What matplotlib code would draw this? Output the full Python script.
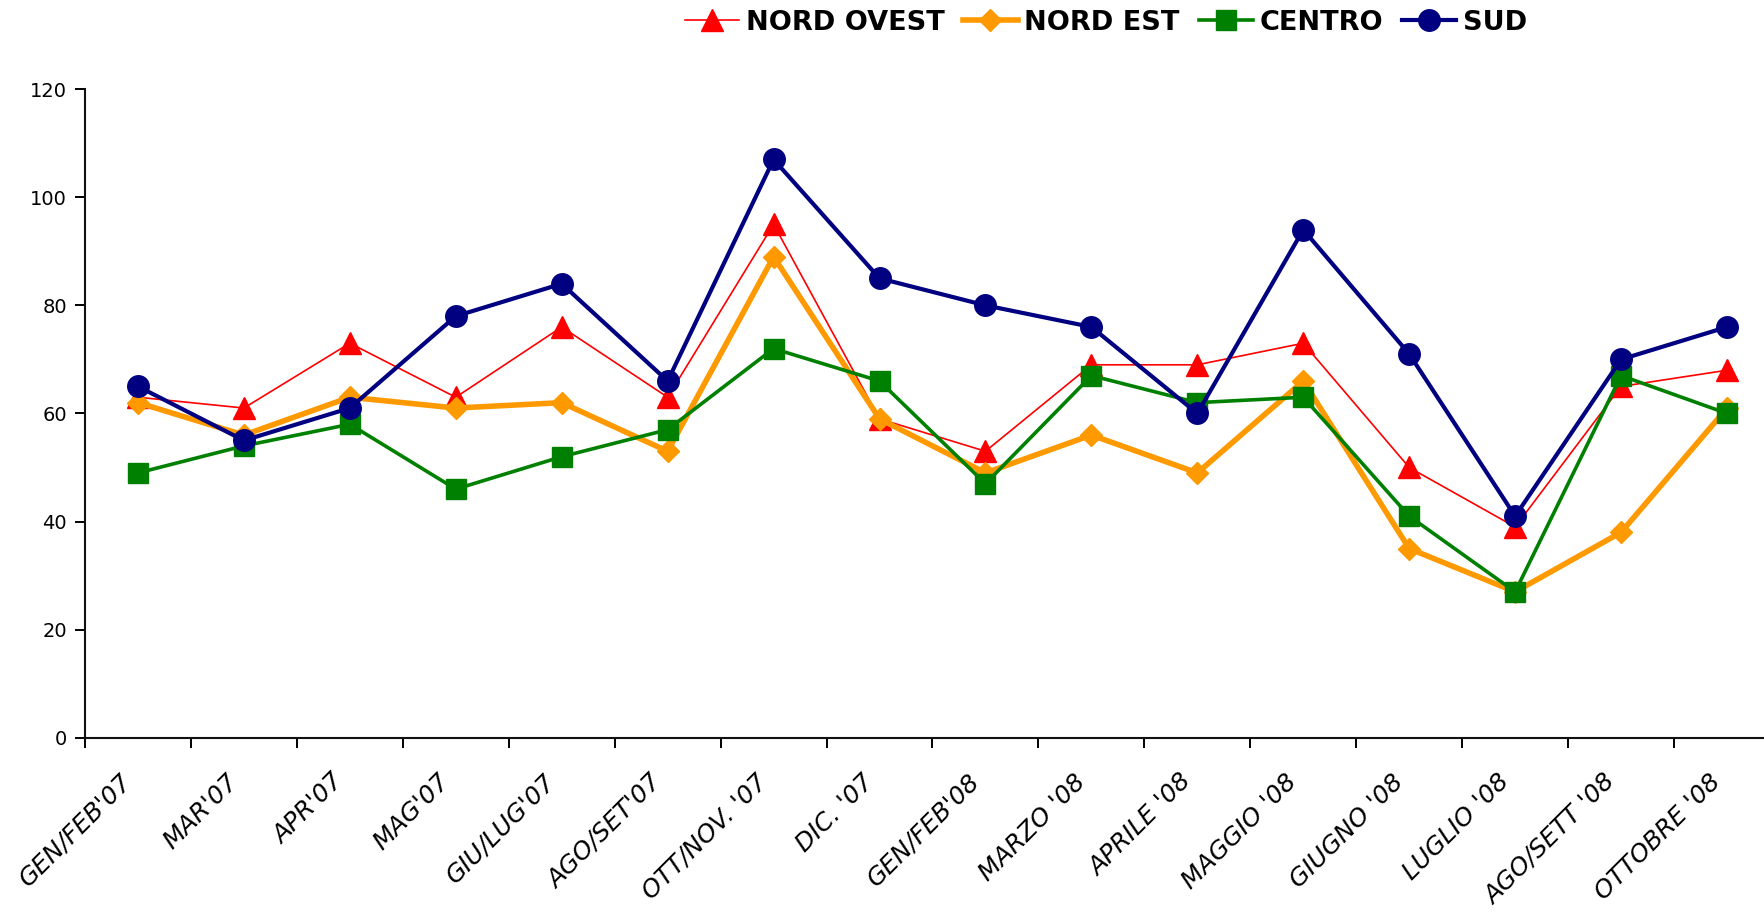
import numpy as np
import matplotlib.pyplot as plt
import matplotlib.transforms as mtransforms
from matplotlib.ticker import FixedLocator

# Categories and series values
periods = ["GEN/FEB'07", "MAR'07", "APR'07", "MAG'07", "GIU/LUG'07", "AGO/SET'07",
           "OTT/NOV. '07", "DIC. '07", "GEN/FEB'08", "MARZO '08", "APRILE '08",
           "MAGGIO '08", "GIUGNO '08", "LUGLIO '08", "AGO/SETT '08", "OTTOBRE '08"]

nord_ovest = [63, 61, 73, 63, 76, 63, 95, 59, 53, 69, 69, 73, 50, 39, 65, 68]
nord_est = [62, 56, 63, 61, 62, 53, 89, 59, 49, 56, 49, 66, 35, 27, 38, 61]
centro = [49, 54, 58, 46, 52, 57, 72, 66, 47, 67, 62, 63, 41, 27, 67, 60]
sud = [65, 55, 61, 78, 84, 66, 107, 85, 80, 76, 60, 94, 71, 41, 70, 76]

x = np.arange(len(periods))

fig = plt.figure(figsize=(17.65, 9.13), dpi=100)
# axes runs slightly past the right edge, as in the original
ax = fig.add_axes([85 / 1765, 0.192, 1695 / 1765, 0.7103])

ax.plot(x, nord_ovest, color='#FF0000', lw=1.2, marker='^', ms=16, label='NORD OVEST')
ax.plot(x, nord_est, color='#FF9900', lw=4.0, marker='D', ms=11, label='NORD EST')
ax.plot(x, centro, color='#008000', lw=2.6, marker='s', ms=15, label='CENTRO')
ax.plot(x, sud, color='#000080', lw=3.0, marker='o', ms=15.5, label='SUD')

ax.set_xlim(-0.5, len(periods) - 0.5)
ax.set_ylim(0, 120)
ax.set_yticks(range(0, 121, 20))

# ticks between categories, labels at category centres
ax.xaxis.set_major_locator(FixedLocator(np.arange(-0.5, len(periods), 1.0)))
ax.xaxis.set_major_formatter(plt.NullFormatter())
ax.xaxis.set_minor_locator(FixedLocator(x))
ax.set_xticklabels(periods, minor=True, rotation=45, ha='right', va='center',
                   rotation_mode='anchor', fontsize=18, style='italic')
ax.tick_params(axis='x', which='minor', length=0, pad=29)
ax.tick_params(axis='x', which='major', length=7, width=1.4, direction='out')
ax.tick_params(axis='y', length=7, width=1.4, direction='out', labelsize=14, pad=6)

shift = mtransforms.ScaledTranslation(-10 / 100, 0, fig.dpi_scale_trans)
for lbl in ax.get_xticklabels(minor=True):
    lbl.set_transform(lbl.get_transform() + shift)

for side in ['top', 'right']:
    ax.spines[side].set_visible(False)
for side in ['left', 'bottom']:
    ax.spines[side].set_linewidth(1.5)
    ax.spines[side].set_color('#111111')

leg = fig.legend(loc='center', bbox_to_anchor=(0.6266, 0.975), ncol=4, frameon=False,
                 handlelength=2.0, handletextpad=0.25, columnspacing=0.7,
                 prop={'weight': 'bold', 'size': 19.5})

fig.savefig('out.png', dpi=100)
